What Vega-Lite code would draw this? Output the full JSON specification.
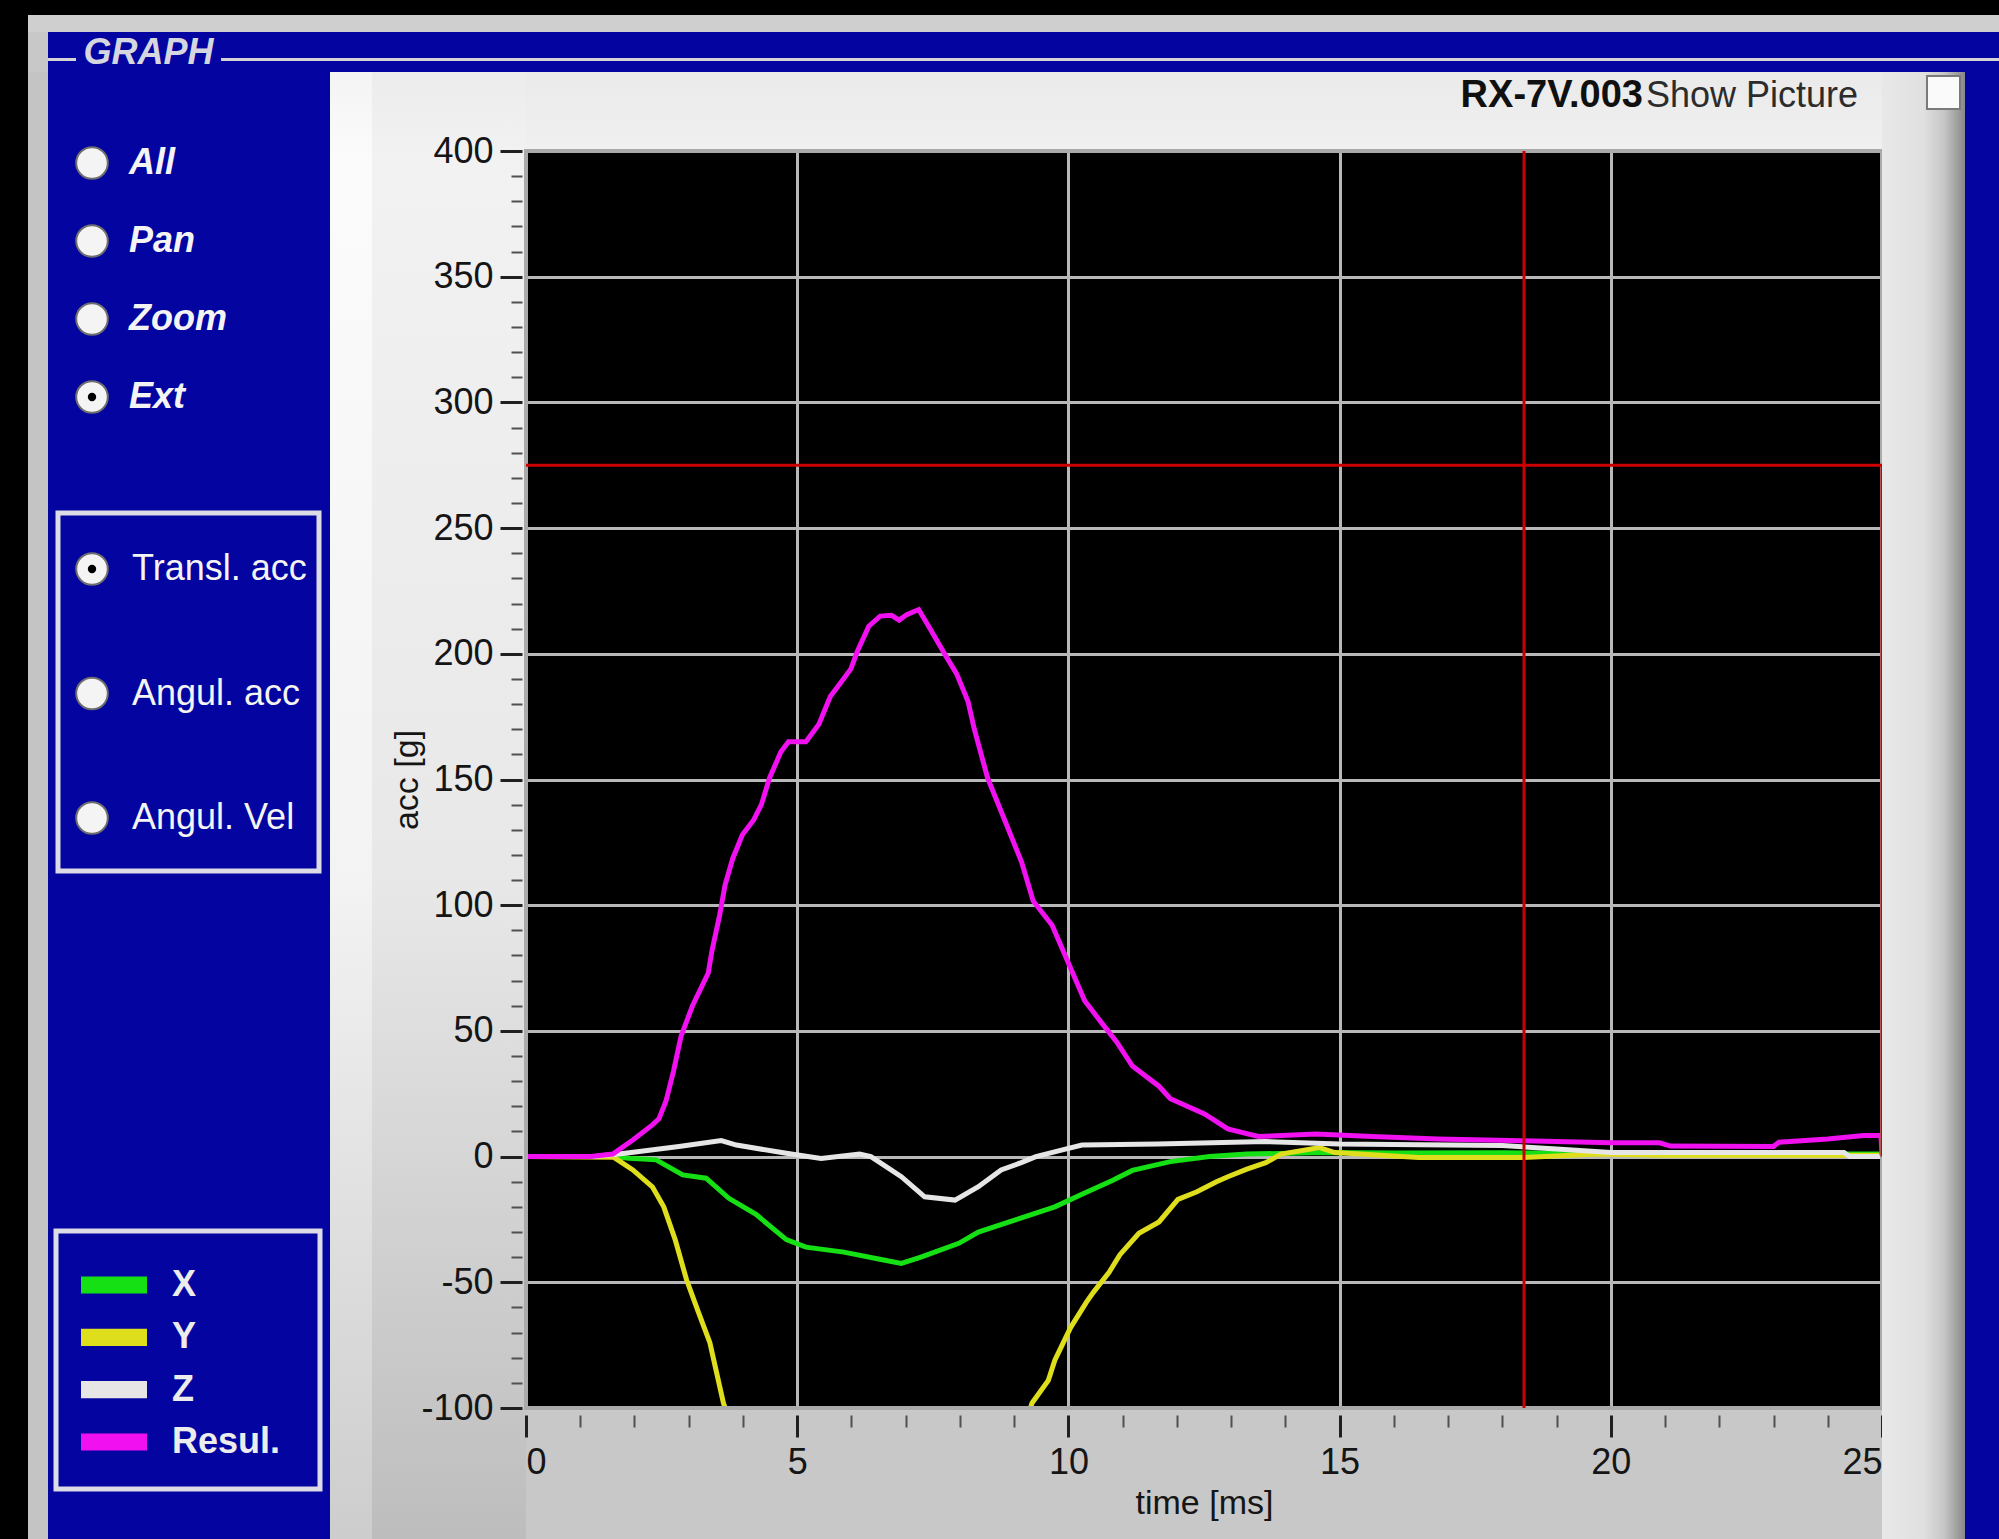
{
  "$schema": "https://vega.github.io/schema/vega-lite/v6.json",
  "background": "#c8c8c8",
  "padding": 0,
  "spacing": 0,
  "config": {
    "view": {"stroke": null},
    "concat": {"spacing": 0},
    "font": "Liberation Sans"
  },
  "datasets": {
    "modes": [
      {"item": "All", "on": false},
      {"item": "Pan", "on": false},
      {"item": "Zoom", "on": false},
      {"item": "Ext", "on": true}
    ],
    "quantities": [
      {"item": "Transl. acc", "on": true},
      {"item": "Angul. acc", "on": false},
      {"item": "Angul. Vel", "on": false}
    ],
    "series": [
      {"series": "X"},
      {"series": "Y"},
      {"series": "Z"},
      {"series": "Resul."}
    ],
    "curves": [
      {"series": "X", "t": 0, "g": 0}, {"series": "X", "t": 1.6, "g": 0}, {"series": "X", "t": 1.9, "g": -0.7},
      {"series": "X", "t": 2.4, "g": -1.3}, {"series": "X", "t": 2.89, "g": -7.3}, {"series": "X", "t": 3.32, "g": -8.6},
      {"series": "X", "t": 3.74, "g": -16.6}, {"series": "X", "t": 4.24, "g": -23}, {"series": "X", "t": 4.8, "g": -33},
      {"series": "X", "t": 5.16, "g": -36}, {"series": "X", "t": 5.86, "g": -38}, {"series": "X", "t": 6.57, "g": -41},
      {"series": "X", "t": 6.92, "g": -42.5}, {"series": "X", "t": 7.28, "g": -40}, {"series": "X", "t": 7.98, "g": -34.5},
      {"series": "X", "t": 8.34, "g": -30}, {"series": "X", "t": 9.05, "g": -25}, {"series": "X", "t": 9.75, "g": -20},
      {"series": "X", "t": 10.25, "g": -15}, {"series": "X", "t": 10.81, "g": -9.5}, {"series": "X", "t": 11.18, "g": -5.5},
      {"series": "X", "t": 11.88, "g": -2}, {"series": "X", "t": 12.6, "g": 0}, {"series": "X", "t": 13.29, "g": 1},
      {"series": "X", "t": 14.7, "g": 1.6}, {"series": "X", "t": 16, "g": 1.4}, {"series": "X", "t": 18, "g": 1.5},
      {"series": "X", "t": 20, "g": 1.4}, {"series": "X", "t": 21.5, "g": 1.2}, {"series": "X", "t": 23, "g": 1.2},
      {"series": "X", "t": 24.3, "g": 1}, {"series": "X", "t": 25, "g": 1},
      {"series": "Y", "t": 0, "g": 0}, {"series": "Y", "t": 1.62, "g": -0.3}, {"series": "Y", "t": 1.97, "g": -5.3},
      {"series": "Y", "t": 2.33, "g": -12}, {"series": "Y", "t": 2.54, "g": -20}, {"series": "Y", "t": 2.75, "g": -33},
      {"series": "Y", "t": 2.96, "g": -49}, {"series": "Y", "t": 3.18, "g": -62}, {"series": "Y", "t": 3.39, "g": -74},
      {"series": "Y", "t": 3.64, "g": -98}, {"series": "Y", "t": 3.8, "g": -108}, {"series": "Y", "t": 4.5, "g": -150},
      {"series": "Y", "t": 5.5, "g": -190}, {"series": "Y", "t": 6.5, "g": -210}, {"series": "Y", "t": 7.5, "g": -200},
      {"series": "Y", "t": 8.5, "g": -150}, {"series": "Y", "t": 9.0, "g": -120}, {"series": "Y", "t": 9.33, "g": -98},
      {"series": "Y", "t": 9.63, "g": -89}, {"series": "Y", "t": 9.75, "g": -81}, {"series": "Y", "t": 10.04, "g": -68},
      {"series": "Y", "t": 10.33, "g": -58}, {"series": "Y", "t": 10.46, "g": -54}, {"series": "Y", "t": 10.75, "g": -46},
      {"series": "Y", "t": 10.95, "g": -39}, {"series": "Y", "t": 11.3, "g": -30.5}, {"series": "Y", "t": 11.67, "g": -26},
      {"series": "Y", "t": 12.02, "g": -17}, {"series": "Y", "t": 12.37, "g": -14}, {"series": "Y", "t": 12.73, "g": -10},
      {"series": "Y", "t": 12.94, "g": -8}, {"series": "Y", "t": 13.29, "g": -5}, {"series": "Y", "t": 13.64, "g": -2.4},
      {"series": "Y", "t": 13.92, "g": 1}, {"series": "Y", "t": 14.63, "g": 3.6}, {"series": "Y", "t": 14.91, "g": 1.6},
      {"series": "Y", "t": 16.46, "g": -0.4}, {"series": "Y", "t": 18.36, "g": -0.4}, {"series": "Y", "t": 19.75, "g": 1},
      {"series": "Y", "t": 21, "g": 0.5}, {"series": "Y", "t": 25, "g": 0.5},
      {"series": "Z", "t": 0, "g": 0}, {"series": "Z", "t": 1.27, "g": 0}, {"series": "Z", "t": 1.83, "g": 1.3},
      {"series": "Z", "t": 2.82, "g": 4}, {"series": "Z", "t": 3.6, "g": 6.4}, {"series": "Z", "t": 3.88, "g": 4.6},
      {"series": "Z", "t": 4.8, "g": 1.3}, {"series": "Z", "t": 5.44, "g": -0.7}, {"series": "Z", "t": 6.15, "g": 1},
      {"series": "Z", "t": 6.36, "g": 0}, {"series": "Z", "t": 6.92, "g": -8}, {"series": "Z", "t": 7.35, "g": -16},
      {"series": "Z", "t": 7.91, "g": -17.3}, {"series": "Z", "t": 8.34, "g": -12}, {"series": "Z", "t": 8.76, "g": -5.3},
      {"series": "Z", "t": 9.13, "g": -2.4}, {"series": "Z", "t": 9.4, "g": 0}, {"series": "Z", "t": 9.89, "g": 2.7},
      {"series": "Z", "t": 10.25, "g": 4.6}, {"series": "Z", "t": 11.65, "g": 5}, {"series": "Z", "t": 13.64, "g": 6},
      {"series": "Z", "t": 15, "g": 5}, {"series": "Z", "t": 18, "g": 4.4}, {"series": "Z", "t": 19, "g": 3},
      {"series": "Z", "t": 20, "g": 1.6}, {"series": "Z", "t": 24.3, "g": 1.6}, {"series": "Z", "t": 24.4, "g": 0},
      {"series": "Z", "t": 25, "g": 0},
      {"series": "Resul.", "t": 0, "g": 0}, {"series": "Resul.", "t": 1.2, "g": 0}, {"series": "Resul.", "t": 1.6, "g": 1},
      {"series": "Resul.", "t": 1.97, "g": 6.6}, {"series": "Resul.", "t": 2.33, "g": 12.6}, {"series": "Resul.", "t": 2.45, "g": 15},
      {"series": "Resul.", "t": 2.58, "g": 22}, {"series": "Resul.", "t": 2.72, "g": 34}, {"series": "Resul.", "t": 2.86, "g": 48},
      {"series": "Resul.", "t": 3.07, "g": 60}, {"series": "Resul.", "t": 3.36, "g": 73}, {"series": "Resul.", "t": 3.43, "g": 82},
      {"series": "Resul.", "t": 3.57, "g": 96}, {"series": "Resul.", "t": 3.67, "g": 108}, {"series": "Resul.", "t": 3.81, "g": 118.5},
      {"series": "Resul.", "t": 3.99, "g": 128}, {"series": "Resul.", "t": 4.2, "g": 134}, {"series": "Resul.", "t": 4.34, "g": 140},
      {"series": "Resul.", "t": 4.49, "g": 150.6}, {"series": "Resul.", "t": 4.7, "g": 161}, {"series": "Resul.", "t": 4.84, "g": 165},
      {"series": "Resul.", "t": 5.16, "g": 165}, {"series": "Resul.", "t": 5.4, "g": 172}, {"series": "Resul.", "t": 5.61, "g": 183},
      {"series": "Resul.", "t": 5.75, "g": 187}, {"series": "Resul.", "t": 5.99, "g": 194}, {"series": "Resul.", "t": 6.11, "g": 201},
      {"series": "Resul.", "t": 6.32, "g": 211}, {"series": "Resul.", "t": 6.53, "g": 215}, {"series": "Resul.", "t": 6.74, "g": 215.3},
      {"series": "Resul.", "t": 6.88, "g": 213.4}, {"series": "Resul.", "t": 7.02, "g": 215.6}, {"series": "Resul.", "t": 7.24, "g": 217.6},
      {"series": "Resul.", "t": 7.45, "g": 210}, {"series": "Resul.", "t": 7.73, "g": 199.5}, {"series": "Resul.", "t": 7.94, "g": 192},
      {"series": "Resul.", "t": 8.15, "g": 181}, {"series": "Resul.", "t": 8.26, "g": 170.5}, {"series": "Resul.", "t": 8.51, "g": 150.6},
      {"series": "Resul.", "t": 8.86, "g": 132}, {"series": "Resul.", "t": 9.14, "g": 117}, {"series": "Resul.", "t": 9.35, "g": 101.7},
      {"series": "Resul.", "t": 9.7, "g": 92}, {"series": "Resul.", "t": 10.0, "g": 77}, {"series": "Resul.", "t": 10.3, "g": 62},
      {"series": "Resul.", "t": 10.62, "g": 53}, {"series": "Resul.", "t": 10.89, "g": 45.6}, {"series": "Resul.", "t": 11.18, "g": 36},
      {"series": "Resul.", "t": 11.67, "g": 28}, {"series": "Resul.", "t": 11.88, "g": 23}, {"series": "Resul.", "t": 12.51, "g": 17},
      {"series": "Resul.", "t": 12.94, "g": 11}, {"series": "Resul.", "t": 13.5, "g": 8}, {"series": "Resul.", "t": 14.56, "g": 9},
      {"series": "Resul.", "t": 15.61, "g": 8}, {"series": "Resul.", "t": 16.81, "g": 7}, {"series": "Resul.", "t": 18.36, "g": 6.3},
      {"series": "Resul.", "t": 19, "g": 6}, {"series": "Resul.", "t": 20, "g": 5.5}, {"series": "Resul.", "t": 20.9, "g": 5.5},
      {"series": "Resul.", "t": 21.1, "g": 4.2}, {"series": "Resul.", "t": 23.0, "g": 4}, {"series": "Resul.", "t": 23.1, "g": 5.7},
      {"series": "Resul.", "t": 24.0, "g": 7}, {"series": "Resul.", "t": 24.66, "g": 8.4}, {"series": "Resul.", "t": 24.98, "g": 8.4},
      {"series": "Resul.", "t": 25, "g": 0.5}
    ]
  },
  "vconcat": [
    {"width": 1999, "height": 15, "view": {"fill": "#000000"}, "data": {"values": [{}]}, "mark": {"type": "text", "text": "", "fontSize": 1}},
    {
      "spacing": 0, "bounds": "flush",
      "hconcat": [
        {"width": 28, "height": 17, "view": {"fill": "#000000"}, "data": {"values": [{}]}, "mark": {"type": "text", "text": "", "fontSize": 1}},
        {"width": 1971, "height": 17, "view": {"fill": "#cfcfcf"}, "data": {"values": [{}]}, "mark": {"type": "text", "text": "", "fontSize": 1}}
      ]
    },
    {
      "spacing": 0, "bounds": "flush",
      "hconcat": [
        {"width": 28, "height": 40, "view": {"fill": "#000000"}, "data": {"values": [{}]}, "mark": {"type": "text", "text": "", "fontSize": 1}},
        {"width": 20, "height": 40, "view": {"fill": "#c8c8c8"}, "data": {"values": [{}]}, "mark": {"type": "text", "text": "", "fontSize": 1}},
        {"width": 28, "height": 40, "view": {"fill": {"gradient": "linear", "x1": 0, "y1": 0, "x2": 0, "y2": 1, "stops": [{"offset": 0, "color": "#0404a0"}, {"offset": 0.65, "color": "#0404a0"}, {"offset": 0.65, "color": "#d4d4d4"}, {"offset": 0.725, "color": "#d4d4d4"}, {"offset": 0.725, "color": "#0404a0"}, {"offset": 1, "color": "#0404a0"}]}}, "data": {"values": [{}]}, "mark": {"type": "text", "text": "", "fontSize": 1}},
        {
          "width": 145, "height": 40, "view": {"fill": "#0404a0"},
          "data": {"values": [{"label": "GRAPH"}]},
          "mark": {"type": "text", "fontSize": 36, "fontWeight": "bold", "fontStyle": "italic", "color": "#d6d6e0", "baseline": "alphabetic", "align": "center"},
          "encoding": {
            "y": {"datum": "GRAPH", "type": "nominal", "scale": {"type": "point", "domain": ["GRAPH"], "range": [32, 32], "padding": 0}, "axis": null},
            "text": {"field": "label"}
          }
        },
        {"width": 1778, "height": 40, "view": {"fill": {"gradient": "linear", "x1": 0, "y1": 0, "x2": 0, "y2": 1, "stops": [{"offset": 0, "color": "#0404a0"}, {"offset": 0.65, "color": "#0404a0"}, {"offset": 0.65, "color": "#d4d4d4"}, {"offset": 0.725, "color": "#d4d4d4"}, {"offset": 0.725, "color": "#0404a0"}, {"offset": 1, "color": "#0404a0"}]}}, "data": {"values": [{}]}, "mark": {"type": "text", "text": "", "fontSize": 1}}
      ]
    },
    {
      "spacing": 0, "bounds": "flush",
      "hconcat": [
        {"width": 28, "height": 1467, "view": {"fill": "#000000"}, "data": {"values": [{}]}, "mark": {"type": "text", "text": "", "fontSize": 1}},
        {"width": 20, "height": 1467, "view": {"fill": "#c4c4c4"}, "data": {"values": [{}]}, "mark": {"type": "text", "text": "", "fontSize": 1}},
        {
          "width": 282, "height": 1467, "view": {"fill": "#0404a0"},
          "resolve": {"scale": {"x": "independent", "y": "independent"}},
          "layer": [
            {
              "data": {"name": "modes"},
              "encoding": {
                "y": {"field": "item", "type": "nominal", "scale": {"type": "point", "domain": ["All", "Pan", "Zoom", "Ext"], "range": [91, 325], "padding": 0}, "axis": null}
              },
              "layer": [
                {
                  "mark": {"type": "point", "shape": "circle", "filled": true, "size": 1000, "fill": "#f4f4f4", "stroke": "#6e6e6e", "strokeWidth": 2, "opacity": 1},
                  "encoding": {"x": {"datum": "button", "type": "nominal", "scale": {"type": "point", "domain": ["button", "label"], "range": [44, 81], "padding": 0}, "axis": null}}
                },
                {
                  "transform": [{"filter": "datum.on"}],
                  "mark": {"type": "point", "shape": "circle", "filled": true, "size": 70, "color": "#000000", "opacity": 1},
                  "encoding": {"x": {"datum": "button", "type": "nominal", "axis": null}}
                },
                {
                  "mark": {"type": "text", "align": "left", "baseline": "middle", "fontSize": 36, "fontWeight": "bold", "fontStyle": "italic", "color": "#f4f4f4"},
                  "encoding": {"x": {"datum": "label", "type": "nominal", "axis": null}, "text": {"field": "item"}}
                }
              ]
            },
            {
              "data": {"name": "quantities"},
              "encoding": {
                "y": {"field": "item", "type": "nominal", "scale": {"type": "point", "domain": ["Transl. acc", "Angul. acc", "Angul. Vel"], "range": [497, 746], "padding": 0}, "axis": null}
              },
              "layer": [
                {
                  "data": {"values": [{}]},
                  "mark": {"type": "rect", "filled": false, "stroke": "#dcdce6", "strokeWidth": 5, "xOffset": -34, "x2Offset": 187, "yOffset": -56, "y2Offset": 53},
                  "encoding": {
                    "x": {"datum": "button", "type": "nominal", "scale": {"type": "point", "domain": ["button", "label"], "range": [44, 84], "padding": 0}, "axis": null},
                    "x2": {"datum": "label"},
                    "y": {"datum": "Transl. acc", "type": "nominal"},
                    "y2": {"datum": "Angul. Vel"}
                  }
                },
                {
                  "mark": {"type": "point", "shape": "circle", "filled": true, "size": 1000, "fill": "#f4f4f4", "stroke": "#6e6e6e", "strokeWidth": 2, "opacity": 1},
                  "encoding": {"x": {"datum": "button", "type": "nominal", "axis": null}}
                },
                {
                  "transform": [{"filter": "datum.on"}],
                  "mark": {"type": "point", "shape": "circle", "filled": true, "size": 70, "color": "#000000", "opacity": 1},
                  "encoding": {"x": {"datum": "button", "type": "nominal", "axis": null}}
                },
                {
                  "mark": {"type": "text", "align": "left", "baseline": "middle", "fontSize": 36, "color": "#f4f4f4"},
                  "encoding": {"x": {"datum": "label", "type": "nominal", "axis": null}, "text": {"field": "item"}}
                }
              ]
            },
            {
              "data": {"name": "series"},
              "encoding": {
                "y": {"field": "series", "type": "nominal", "scale": {"type": "point", "domain": ["X", "Y", "Z", "Resul."], "range": [1213, 1370], "padding": 0}, "axis": null}
              },
              "layer": [
                {
                  "data": {"values": [{}]},
                  "mark": {"type": "rect", "filled": false, "stroke": "#dcdce6", "strokeWidth": 5, "xOffset": -58, "x2Offset": 148, "yOffset": -54, "y2Offset": 47},
                  "encoding": {
                    "x": {"datum": "swatch", "type": "nominal", "scale": {"type": "point", "domain": ["swatch", "label"], "range": [66, 124], "padding": 0}, "axis": null},
                    "x2": {"datum": "label"},
                    "y": {"datum": "X", "type": "nominal"},
                    "y2": {"datum": "Resul."}
                  }
                },
                {
                  "mark": {"type": "point", "shape": "M-1,-0.26L1,-0.26L1,0.26L-1,0.26Z", "filled": true, "size": 4356, "opacity": 1, "strokeWidth": 0},
                  "encoding": {
                    "x": {"datum": "swatch", "type": "nominal", "axis": null},
                    "color": {"field": "series", "type": "nominal", "scale": {"domain": ["X", "Y", "Z", "Resul."], "range": ["#14e014", "#dede1c", "#e6e6e6", "#f010f0"]}, "legend": null}
                  }
                },
                {
                  "mark": {"type": "text", "align": "left", "baseline": "middle", "fontSize": 36, "fontWeight": "bold", "color": "#ececec"},
                  "encoding": {"x": {"datum": "label", "type": "nominal", "axis": null}, "text": {"field": "series"}}
                }
              ]
            }
          ]
        },
        {"width": 42, "height": 1467, "view": {"fill": {"gradient": "linear", "x1": 0, "y1": 0, "x2": 0, "y2": 1, "stops": [{"offset": 0, "color": "#f4f4f4"}, {"offset": 0.06, "color": "#fbfbfb"}, {"offset": 0.55, "color": "#f3f3f3"}, {"offset": 1, "color": "#cdcdcd"}]}}, "data": {"values": [{}]}, "mark": {"type": "text", "text": "", "fontSize": 1}},
        {"width": 154, "height": 1467, "view": {"fill": {"gradient": "linear", "x1": 0, "y1": 0, "x2": 0, "y2": 1, "stops": [{"offset": 0, "color": "#ececec"}, {"offset": 0.06, "color": "#f2f2f2"}, {"offset": 0.55, "color": "#e8e8e8"}, {"offset": 1, "color": "#bdbdbd"}]}}, "data": {"values": [{}]}, "mark": {"type": "text", "text": "", "fontSize": 1}},
        {
          "width": 1356, "height": 1336,
          "view": {"fill": {"gradient": "linear", "x1": 0, "y1": 0, "x2": 0, "y2": 1, "stops": [{"offset": 0, "color": "#eaeaea"}, {"offset": 0.05913, "color": "#f0f0f0"}, {"offset": 0.05913, "color": "#000000"}, {"offset": 1, "color": "#000000"}]}},
          "resolve": {"axis": {"x": "independent", "y": "independent"}},
          "layer": [
            {
              "data": {"name": "curves"},
              "mark": {"type": "line", "strokeWidth": 5, "clip": true},
              "encoding": {
                "x": {
                  "field": "t", "type": "quantitative",
                  "scale": {"domain": [0, 25], "nice": false, "zero": false},
                  "axis": {
                    "orient": "top", "values": [0, 5, 10, 15, 20, 25],
                    "grid": true, "gridColor": "#b8b8b8", "gridWidth": 3, "gridOpacity": 1,
                    "ticks": false, "labels": false, "domain": false, "title": null
                  }
                },
                "y": {
                  "field": "g", "type": "quantitative",
                  "scale": {"domain": [-100, 400], "range": [1336, 79], "nice": false, "zero": false},
                  "axis": {
                    "values": [-100, -50, 0, 50, 100, 150, 200, 250, 300, 350, 400], "orient": "left", "offset": 4,
                    "domain": false, "tickSize": 22, "tickWidth": 3, "tickColor": "#202020",
                    "grid": true, "gridColor": "#b8b8b8", "gridWidth": 3, "gridOpacity": 1,
                    "labelExpr": "'' + datum.value",
                    "labelFontSize": 36, "labelColor": "#151515", "labelPadding": 7,
                    "labelFlush": false, "labelOverlap": false, "labelBound": false,
                    "title": "acc [g]", "titleFontSize": 34, "titleFontWeight": "normal", "titleColor": "#151515", "titlePadding": -4
                  }
                },
                "color": {"field": "series", "type": "nominal", "scale": {"domain": ["X", "Y", "Z", "Resul."], "range": ["#14e014", "#dede1c", "#e6e6e6", "#f010f0"]}, "legend": null}
              }
            },
            {
              "data": {"values": [{}]},
              "mark": {"type": "rect", "filled": false, "stroke": "#aaaaaa", "strokeWidth": 4},
              "encoding": {
                "x": {"datum": 0, "type": "quantitative", "axis": null},
                "x2": {"datum": 25},
                "y": {"datum": -100, "type": "quantitative", "axis": null},
                "y2": {"datum": 400}
              }
            },
            {
              "data": {"values": [{}]},
              "mark": {"type": "rule", "color": "#cc0000", "strokeWidth": 3},
              "encoding": {"y": {"datum": 275, "type": "quantitative", "axis": null}}
            },
            {
              "data": {"values": [{}]},
              "mark": {"type": "rule", "color": "#cc0000", "strokeWidth": 3},
              "encoding": {
                "x": {
                  "datum": 18.4, "type": "quantitative",
                  "axis": {
                    "values": [0, 5, 10, 15, 20, 25], "orient": "bottom", "offset": 7,
                    "domain": false, "grid": false, "tickSize": 22, "tickWidth": 3, "tickColor": "#202020",
                    "labelFontSize": 36, "labelColor": "#151515", "labelPadding": 8,
                    "labelFlush": true, "labelOverlap": false, "labelBound": false,
                    "title": "time [ms]", "titleFontSize": 34, "titleFontWeight": "normal", "titleColor": "#151515", "titlePadding": 6
                  }
                },
                "y": {"datum": -100, "type": "quantitative", "axis": null},
                "y2": {"datum": 400}
              }
            },
            {
              "data": {"values": [{}]},
              "mark": {"type": "rule", "color": "#cc0000", "strokeWidth": 3},
              "encoding": {
                "x": {
                  "datum": 25, "type": "quantitative",
                  "axis": {
                    "values": [1, 2, 3, 4, 6, 7, 8, 9, 11, 12, 13, 14, 16, 17, 18, 19, 21, 22, 23, 24],
                    "orient": "bottom", "offset": 7, "domain": false, "grid": false, "labels": false, "title": null,
                    "tickSize": 12, "tickWidth": 2, "tickColor": "#505050"
                  }
                },
                "y": {
                  "datum": 0, "type": "quantitative",
                  "axis": {
                    "values": [-90, -80, -70, -60, -40, -30, -20, -10, 10, 20, 30, 40, 60, 70, 80, 90, 110, 120, 130, 140, 160, 170, 180, 190, 210, 220, 230, 240, 260, 270, 280, 290, 310, 320, 330, 340, 360, 370, 380, 390],
                    "orient": "left", "offset": 4, "domain": false, "grid": false, "labels": false, "title": null,
                    "tickSize": 11, "tickWidth": 2, "tickColor": "#505050"
                  }
                },
                "y2": {"datum": 275}
              }
            },
            {
              "data": {"values": [{"file": "RX-7V.003", "option": "Show Picture"}]},
              "encoding": {
                "x": {"datum": 25, "type": "quantitative", "axis": null},
                "y": {"datum": 400, "type": "quantitative", "axis": null}
              },
              "layer": [
                {"mark": {"type": "text", "align": "right", "baseline": "alphabetic", "dx": -239, "dy": -44, "fontSize": 38, "fontWeight": "bold", "color": "#101010"}, "encoding": {"text": {"field": "file"}}},
                {"mark": {"type": "text", "align": "left", "baseline": "alphabetic", "dx": -236, "dy": -44, "fontSize": 36, "color": "#2c2c2c"}, "encoding": {"text": {"field": "option"}}}
              ]
            }
          ]
        },
        {
          "width": 83, "height": 1467,
          "view": {"fill": {"gradient": "linear", "x1": 0, "y1": 0, "x2": 1, "y2": 0, "stops": [{"offset": 0, "color": "#e8e8e8"}, {"offset": 0.5, "color": "#e0e0e0"}, {"offset": 0.75, "color": "#c6c6c6"}, {"offset": 1, "color": "#888888"}]}},
          "data": {"values": [{"checked": false}]},
          "mark": {"type": "point", "shape": "square", "filled": true, "size": 1089, "fill": "#fafafa", "stroke": "#7a7a7a", "strokeWidth": 2, "opacity": 1},
          "encoding": {
            "x": {"datum": "checkbox", "type": "nominal", "scale": {"type": "point", "domain": ["checkbox"], "range": [61.5, 61.5], "padding": 0}, "axis": null},
            "y": {"datum": "checkbox", "type": "nominal", "scale": {"type": "point", "domain": ["checkbox"], "range": [20.5, 20.5], "padding": 0}, "axis": null}
          }
        },
        {"width": 34, "height": 1467, "view": {"fill": "#0404a0"}, "data": {"values": [{}]}, "mark": {"type": "text", "text": "", "fontSize": 1}}
      ]
    }
  ]
}
